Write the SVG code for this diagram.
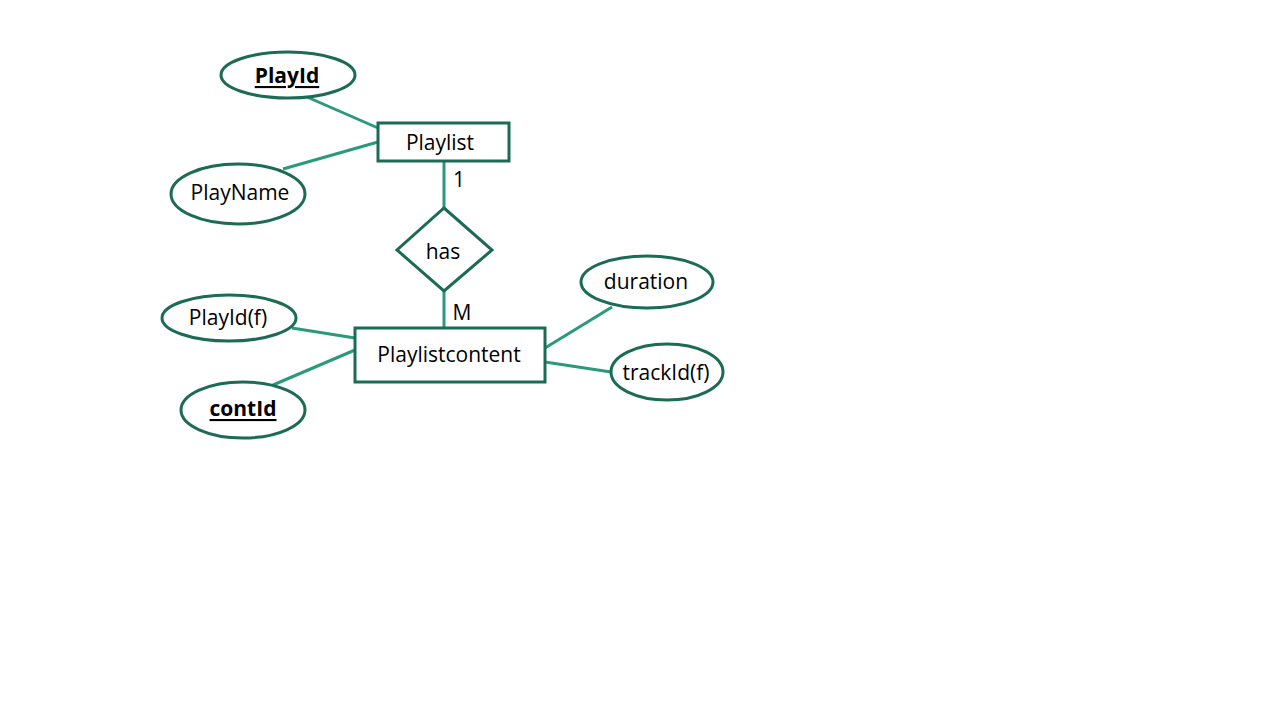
<svg xmlns="http://www.w3.org/2000/svg" width="1280" height="720" viewBox="0 0 1280 720">
<style>
.shape{fill:#fff;stroke:#1c6b55;stroke-width:3}
.ln{stroke:#2a9a7a;stroke-width:3;fill:none}
text{font-family:"Open Sans","Noto Sans",sans-serif;font-size:21px;fill:#000;text-anchor:middle;dominant-baseline:central}
.key{font-weight:bold;text-decoration:underline}
</style>
<rect width="1280" height="720" fill="#fff"/>
<g id="connectors">
<line class="ln" x1="307" y1="97" x2="378" y2="128"/>
<line class="ln" x1="283" y1="169" x2="378" y2="142"/>
<line class="ln" x1="444" y1="161" x2="444" y2="208"/>
<line class="ln" x1="444" y1="291" x2="444" y2="328"/>
<line class="ln" x1="292" y1="328" x2="355" y2="338"/>
<line class="ln" x1="273" y1="385" x2="355" y2="350"/>
<line class="ln" x1="612" y1="307" x2="545" y2="348"/>
<line class="ln" x1="545" y1="362" x2="611" y2="372"/>
<text x="459" y="179">1</text>
<text x="462" y="312">M</text>
</g>
<g id="PlayId"><ellipse class="shape" cx="288" cy="75" rx="67" ry="23"/><text class="key" x="287" y="75">PlayId</text></g>
<g id="Playlist"><rect class="shape" x="378" y="123" width="131" height="38"/><text x="440" y="142">Playlist</text></g>
<g id="PlayName"><ellipse class="shape" cx="238" cy="194" rx="67" ry="30"/><text x="240" y="192">PlayName</text></g>
<g id="has"><polygon class="shape" points="444,208 492,250 444,291 397,250"/><text x="443" y="251">has</text></g>
<g id="Playlistcontent"><rect class="shape" x="355" y="328" width="190" height="54"/><text x="449" y="354">Playlistcontent</text></g>
<g id="PlayIdf"><ellipse class="shape" cx="229" cy="318" rx="67" ry="23"/><text x="228" y="317">PlayId(f)</text></g>
<g id="contId"><ellipse class="shape" cx="243" cy="410" rx="62" ry="28"/><text class="key" x="243" y="408">contId</text></g>
<g id="duration"><ellipse class="shape" cx="647" cy="282" rx="66" ry="26"/><text x="646" y="281">duration</text></g>
<g id="trackIdf"><ellipse class="shape" cx="667" cy="372" rx="56" ry="28"/><text x="666" y="372">trackId(f)</text></g>
</svg>
